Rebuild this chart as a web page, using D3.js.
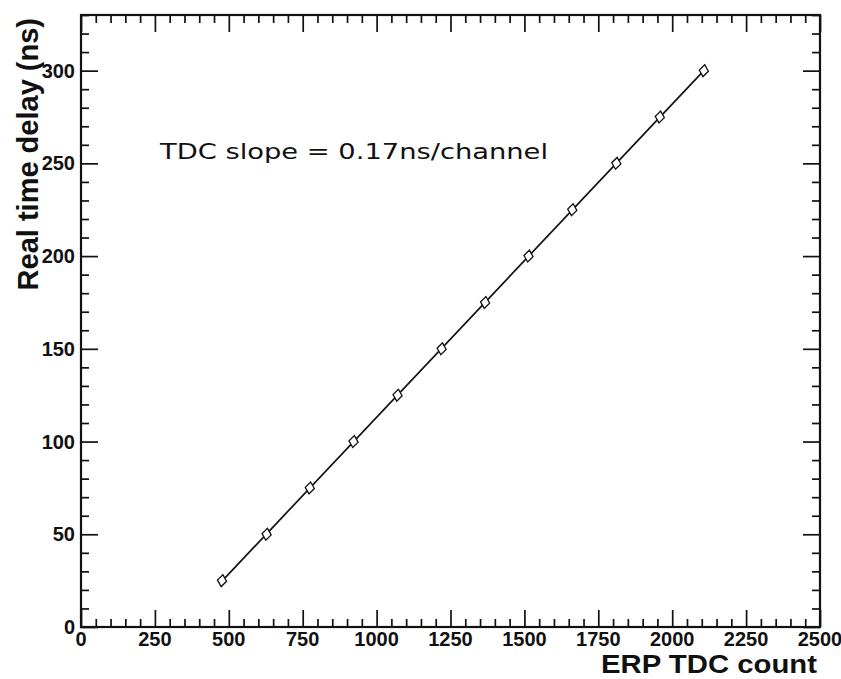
<!DOCTYPE html>
<html>
<head>
<meta charset="utf-8">
<script src="https://cdn.jsdelivr.net/npm/d3@7"></script>
<style>
  html, body { margin: 0; padding: 0; background: #fff; }
  svg { display: block; }
</style>
</head>
<body>
<svg id="chart" width="841" height="679"></svg>
<script>
// Calibration: measured TDC channel vs. the known delay applied
const tdcCounts = [477, 628, 774, 922, 1071, 1220, 1367, 1514, 1662, 1811, 1958, 2107];
const delaysNs  = [25, 50, 75, 100, 125, 150, 175, 200, 225, 250, 275, 300];
const xTickValues = [0, 250, 500, 750, 1000, 1250, 1500, 1750, 2000, 2250, 2500];
const yTickValues = [0, 50, 100, 150, 200, 250, 300];
const slopeLabel = "TDC slope = 0.17ns/channel";
const xTitle = "ERP TDC count";
const yTitle = "Real time delay (ns)";

const svg = d3.select("#chart");
const frame = { left: 81, right: 820, top: 15, bottom: 627 };

const x = d3.scaleLinear().domain([0, 2500]).range([frame.left, frame.right]);
const y = d3.scaleLinear().domain([0, 330]).range([frame.bottom, frame.top]);

const ink = "#111";
const majorLen = 17, minorLen = 8;

// tick marks drawn inward on all four sides
const xMinor = d3.range(0, 2501, 50).filter(v => v % 250 !== 0);
const yMinor = d3.range(0, 331, 10).filter(v => v % 50 !== 0);
const xMajor = xTickValues;
const yMajor = d3.range(0, 331, 50);

function styleAxis(g) {
  g.select(".domain").remove();
  g.selectAll("line").attr("stroke", ink).attr("stroke-width", 1.7);
}

// bottom and top
[[d3.axisBottom, frame.bottom], [d3.axisTop, frame.top]].forEach(([mk, ty]) => {
  svg.append("g").attr("transform", `translate(0,${ty})`)
    .call(mk(x).tickValues(xMinor).tickSize(-minorLen).tickFormat(""))
    .call(styleAxis);
  svg.append("g").attr("transform", `translate(0,${ty})`)
    .call(mk(x).tickValues(xMajor).tickSize(-majorLen).tickFormat(""))
    .call(styleAxis);
});
// left and right
[[d3.axisLeft, frame.left], [d3.axisRight, frame.right]].forEach(([mk, tx]) => {
  svg.append("g").attr("transform", `translate(${tx},0)`)
    .call(mk(y).tickValues(yMinor).tickSize(-minorLen).tickFormat(""))
    .call(styleAxis);
  svg.append("g").attr("transform", `translate(${tx},0)`)
    .call(mk(y).tickValues(yMajor).tickSize(-majorLen).tickFormat(""))
    .call(styleAxis);
});

// tick labels
const labelFont = "'Liberation Sans', Arial, sans-serif";
svg.append("g").selectAll("text").data(xTickValues).join("text")
  .attr("x", d => x(d)).attr("y", 646)
  .attr("text-anchor", "middle")
  .attr("font-family", labelFont).attr("font-weight", "bold").attr("font-size", 20)
  .attr("fill", ink)
  .text(d => d);
svg.append("g").selectAll("text").data(yTickValues).join("text")
  .attr("x", 75).attr("y", d => y(d) + 7)
  .attr("text-anchor", "end")
  .attr("font-family", labelFont).attr("font-weight", "bold").attr("font-size", 20)
  .attr("fill", ink)
  .text(d => d);

// frame
svg.append("rect")
  .attr("x", frame.left).attr("y", frame.top)
  .attr("width", frame.right - frame.left).attr("height", frame.bottom - frame.top)
  .attr("fill", "none").attr("stroke", ink).attr("stroke-width", 2.2);

// axis titles
svg.append("text")
  .attr("x", 817).attr("y", 673)
  .attr("text-anchor", "end")
  .attr("font-family", labelFont).attr("font-weight", "bold").attr("font-size", 25)
  .attr("textLength", 216).attr("lengthAdjust", "spacingAndGlyphs")
  .attr("fill", ink)
  .text(xTitle);
svg.append("text")
  .attr("transform", "translate(38,18) rotate(-90)")
  .attr("text-anchor", "end")
  .attr("font-family", labelFont).attr("font-weight", "bold").attr("font-size", 29)
  .attr("fill", ink)
  .text(yTitle);

// linear fit through the calibration points
const fit = (() => {
  const n = tdcCounts.length;
  const mx = d3.mean(tdcCounts), my = d3.mean(delaysNs);
  let sxy = 0, sxx = 0;
  for (let i = 0; i < n; i++) {
    sxy += (tdcCounts[i] - mx) * (delaysNs[i] - my);
    sxx += (tdcCounts[i] - mx) ** 2;
  }
  const b = sxy / sxx;
  return { b, a: my - b * mx };
})();
const xFit = d3.extent(tdcCounts);
svg.append("line")
  .attr("x1", x(xFit[0])).attr("y1", y(fit.a + fit.b * xFit[0]))
  .attr("x2", x(xFit[1])).attr("y2", y(fit.a + fit.b * xFit[1]))
  .attr("stroke", ink).attr("stroke-width", 1.7);

// open diamond markers
const diamond = "M0,-6 L4.6,0 L0,6 L-4.6,0 Z";
svg.append("g").selectAll("path").data(tdcCounts).join("path")
  .attr("transform", (d, i) => `translate(${x(d)},${y(delaysNs[i])}) rotate(8)`)
  .attr("d", diamond)
  .attr("fill", "#fff").attr("stroke", ink).attr("stroke-width", 1.3);

// slope annotation
svg.append("text")
  .attr("x", 160).attr("y", 159)
  .attr("font-family", "'DejaVu Sans', sans-serif").attr("font-size", 21)
  .attr("textLength", 388).attr("lengthAdjust", "spacingAndGlyphs")
  .attr("fill", ink)
  .text(slopeLabel);
</script>
</body>
</html>
